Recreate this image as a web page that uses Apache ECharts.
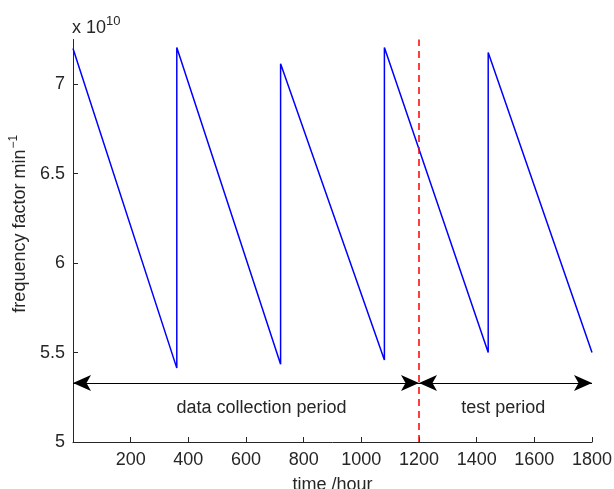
<!DOCTYPE html>
<html>
<head>
<meta charset="utf-8">
<script src="https://cdn.jsdelivr.net/npm/echarts@6/dist/echarts.min.js"></script>
<style>html,body{margin:0;padding:0;background:#fff}#c{width:614px;height:489px}</style>
</head>
<body>
<div id="c"></div>
<script>
// Frequency factor values in units of 1e10 min^-1
const timeHours = [0, 360, 360, 720, 720, 1080, 1080, 1440, 1440, 1800];
const freqFactor = [7.20, 5.413, 7.205, 5.435, 7.115, 5.458, 7.205, 5.50, 7.177, 5.50];
const xTickLabels = [200, 400, 600, 800, 1000, 1200, 1400, 1600, 1800];
const xTicks = [0, 200, 400, 600, 800, 1000, 1200, 1400, 1600, 1800];
const yTicks = [5, 5.5, 6, 6.5, 7];
const splitTime = 1200;
const arrowLevel = 5.33;
const periodLabels = [
  { name: 'data collection period', x: 654, y: 5.19 },
  { name: 'test period', x: 1492, y: 5.19 }
];

const FONT = 'Liberation Sans';
const FS = 18;
const TXT = '#262626';
const chart = echarts.init(document.getElementById('c'));
chart.setOption({
  animation: false,
  textStyle: { fontFamily: FONT },
  grid: { left: 73, right: 22, top: 39.5, bottom: 47, containLabel: false, outerBoundsMode: 'none' },
  xAxis: {
    type: 'value', min: 0, max: 1800,
    name: 'time /hour', nameLocation: 'middle', nameGap: 34,
    nameTextStyle: { fontSize: FS, color: TXT, fontFamily: FONT },
    axisLine: { show: true, lineStyle: { color: TXT, width: 1 } },
    axisTick: { show: true, inside: true, length: 5, customValues: xTicks, lineStyle: { color: TXT } },
    axisLabel: { customValues: xTickLabels, fontSize: FS, color: TXT, margin: 9, fontFamily: FONT,
      formatter: v => String(v) },
    splitLine: { show: false }
  },
  yAxis: {
    type: 'value', min: 5, max: 7.25,
    name: '{a|frequency factor min}{s|\u22121}', nameLocation: 'middle', nameGap: 41, nameRotate: 90,
    nameTextStyle: { fontSize: FS, color: TXT, fontFamily: FONT, padding: [0, 0, 0, 34],
      rich: {
        a: { fontSize: FS, fontFamily: FONT, color: TXT, verticalAlign: 'bottom' },
        s: { fontSize: 12, fontFamily: FONT, color: TXT, verticalAlign: 'top', padding: [0, 0, 9, 1] }
      } },
    axisLine: { show: true, lineStyle: { color: TXT, width: 1 } },
    axisTick: { show: true, inside: true, length: 5, customValues: yTicks, lineStyle: { color: TXT } },
    axisLabel: { customValues: yTicks, fontSize: FS, color: TXT, margin: 8, fontFamily: FONT,
      formatter: v => String(v) },
    splitLine: { show: false }
  },
  graphic: [{
    type: 'text', left: 72, top: 15,
    style: {
      text: '{a|x 10}{b|10}',
      rich: {
        a: { fontSize: FS, fontFamily: FONT, fill: TXT, verticalAlign: 'bottom' },
        b: { fontSize: 13, fontFamily: FONT, fill: TXT, verticalAlign: 'top', padding: [0, 0, 9, 0] }
      }
    }
  }],
  series: [{
    type: 'line',
    data: timeHours.map((t, i) => [t, freqFactor[i]]),
    symbol: 'none',
    lineStyle: { color: '#0000ff', width: 1.5 },
    z: 3
  }, {
    type: 'line', data: [], symbol: 'none',
    markLine: {
      silent: true,
      symbol: ['arrow', 'arrow'], symbolSize: [12, 18],
      label: { show: false },
      lineStyle: { color: '#000', width: 1.2, type: 'solid' },
      data: [
        [{ coord: [0, arrowLevel] }, { coord: [splitTime, arrowLevel] }],
        [{ coord: [splitTime, arrowLevel] }, { coord: [1800, arrowLevel] }]
      ]
    }
  }, {
    type: 'line', data: [], symbol: 'none',
    markLine: {
      silent: true, symbol: 'none',
      label: { show: false },
      lineStyle: { color: '#ff0000', width: 1.5, type: [7, 5] },
      data: [[{ coord: [splitTime, 5] }, { coord: [splitTime, 7.25] }]]
    },
    z: 4
  }, {
    type: 'scatter', symbol: 'circle', symbolSize: 1,
    itemStyle: { opacity: 0 },
    data: periodLabels.map(p => ({ name: p.name, value: [p.x, p.y] })),
    label: { show: true, position: 'inside', formatter: '{b}', fontSize: FS, color: TXT,
      fontFamily: FONT, opacity: 1 }
  }]
});
</script>
</body>
</html>
